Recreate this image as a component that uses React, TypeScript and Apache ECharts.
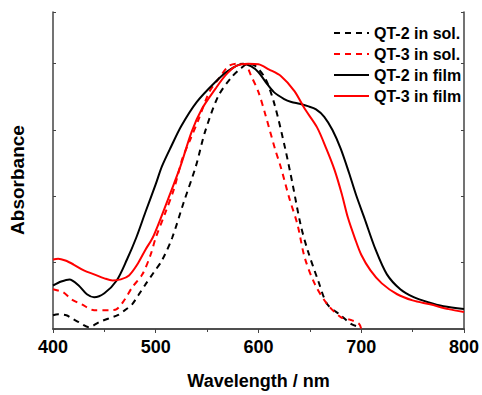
import React, { useEffect, useRef } from "react";
import * as echarts from "echarts";

const seriesNames = ["QT-2 in sol.", "QT-3 in sol.", "QT-2 in film", "QT-3 in film"];
const xTicks = [400, 500, 600, 700, 800];

const qt2Sol: [number, number][] = [
  [400, 0.052], [405, 0.056], [413, 0.052], [418, 0.041], [425, 0.026], [435, 0.007],
  [445, 0.026], [455, 0.041], [463, 0.052], [470, 0.071], [477, 0.093], [483, 0.127],
  [490, 0.168], [498, 0.213], [506, 0.258], [516, 0.344], [527, 0.475], [539, 0.613],
  [548, 0.744], [561, 0.879], [574, 0.95], [583, 0.983], [590, 1.0], [597, 0.991],
  [607, 0.942], [616, 0.841], [626, 0.68], [633, 0.55], [641, 0.393], [648, 0.295],
  [658, 0.183], [667, 0.093], [680, 0.052], [690, 0.019], [699, 0.007],
];

const qt3Sol: [number, number][] = [
  [400, 0.15], [410, 0.138], [418, 0.112], [428, 0.093], [440, 0.071], [455, 0.071],
  [462, 0.075], [470, 0.112], [477, 0.157], [487, 0.206], [495, 0.28], [500, 0.344],
  [510, 0.445], [518, 0.531], [526, 0.643], [534, 0.718], [542, 0.793], [552, 0.893],
  [561, 0.942], [571, 0.991], [580, 1.0], [587, 0.998], [593, 0.953], [600, 0.893],
  [607, 0.804], [616, 0.68], [622, 0.606], [630, 0.493], [638, 0.393], [645, 0.269],
  [655, 0.168], [667, 0.093], [680, 0.045], [690, 0.034], [698, 0.019], [700, 0.0],
];

const qt2Film: [number, number][] = [
  [400, 0.164], [408, 0.179], [416, 0.187], [425, 0.164], [433, 0.131], [440, 0.12],
  [450, 0.135], [462, 0.183], [472, 0.262], [481, 0.344], [490, 0.441], [500, 0.546],
  [506, 0.613], [515, 0.688], [525, 0.766], [540, 0.856], [558, 0.931], [570, 0.972],
  [585, 1.0], [593, 0.99], [600, 0.968], [607, 0.931], [615, 0.893], [625, 0.867],
  [632, 0.856], [640, 0.849], [648, 0.84], [656, 0.828], [664, 0.8], [672, 0.75],
  [680, 0.68], [688, 0.59], [695, 0.505], [703, 0.419], [714, 0.299], [725, 0.206],
  [738, 0.15], [751, 0.12], [765, 0.101], [780, 0.086], [800, 0.075],
];

const qt3Film: [number, number][] = [
  [400, 0.262], [405, 0.265], [412, 0.258], [420, 0.243], [430, 0.221], [440, 0.206],
  [450, 0.191], [458, 0.183], [466, 0.187], [474, 0.202], [482, 0.243], [490, 0.299],
  [497, 0.344], [505, 0.419], [515, 0.52], [524, 0.613], [535, 0.744], [545, 0.83],
  [558, 0.905], [568, 0.957], [578, 0.991], [590, 1.0], [600, 0.998], [610, 0.979],
  [622, 0.953], [635, 0.897], [645, 0.83], [657, 0.76], [666, 0.68], [674, 0.6],
  [681, 0.51], [687, 0.42], [694, 0.34], [700, 0.28], [709, 0.221], [720, 0.172],
  [735, 0.131], [750, 0.108], [767, 0.093], [785, 0.075], [800, 0.064],
];

const FONT = "'Liberation Sans', Arial, sans-serif";

export default function App() {
  const ref = useRef<HTMLDivElement>(null);
  useEffect(() => {
    document.body.style.margin = "0";
    const chart = echarts.init(ref.current!, null, { renderer: "svg" });
    const axisLine = { show: true, lineStyle: { color: "#444", width: 1.5 } };
    const mk = (name: string, data: [number, number][], color: string, dashed: boolean) => ({
      name,
      type: "line",
      data,
      showSymbol: false,
      symbol: "none",
      smooth: 0.3,
      lineStyle: { color, width: 2, type: dashed ? [6, 5] : "solid" },
      itemStyle: { color },
    });
    chart.setOption({
      animation: false,
      backgroundColor: "#fff",
      grid: { left: 53, top: 12, right: 14.5, bottom: 63 },
      legend: {
        orient: "vertical",
        left: 328,
        top: 20,
        itemWidth: 35,
        itemHeight: 14,
        itemGap: 5,
        data: seriesNames,
        itemStyle: { opacity: 0 },
        textStyle: { fontFamily: FONT, fontWeight: "bold", fontSize: 16, color: "#000" },
      },
      graphic: [
        {
          type: "text",
          x: 17,
          y: 180,
          rotation: Math.PI / 2,
          style: {
            text: "Absorbance",
            fontFamily: FONT,
            fontWeight: "bold",
            fontSize: 19,
            fill: "#000",
            textAlign: "center",
            textVerticalAlign: "middle",
          },
        },
      ],
      xAxis: [
        {
          type: "value",
          min: xTicks[0],
          max: xTicks[xTicks.length - 1],
          interval: 100,
          name: "Wavelength / nm",
          nameLocation: "middle",
          nameGap: 43,
          nameTextStyle: { fontFamily: FONT, fontWeight: "bold", fontSize: 18, color: "#000" },
          axisLine,
          axisTick: { show: true, inside: false, length: 4, lineStyle: { color: "#444" } },
          minorTick: { show: true, splitNumber: 2, length: 3, lineStyle: { color: "#444" } },
          axisLabel: { fontFamily: FONT, fontWeight: "bold", fontSize: 18, color: "#000", margin: 9 },
          splitLine: { show: false },
        },
        {
          type: "value",
          position: "top",
          min: 400,
          max: 800,
          interval: 100,
          axisLine,
          axisTick: { show: true, inside: true, length: 3, lineStyle: { color: "#444" } },
          minorTick: { show: true, splitNumber: 2, length: 2, lineStyle: { color: "#444" } },
          axisLabel: { show: false },
          splitLine: { show: false },
        },
      ],
      yAxis: [
        {
          type: "value",
          min: 0,
          max: 1.195,
          interval: 0.25,
          axisLine,
          axisTick: { show: true, inside: true, length: 3, lineStyle: { color: "#444" } },
          axisLabel: { show: false },
          splitLine: { show: false },
        },
        {
          type: "value",
          position: "right",
          min: 0,
          max: 1.195,
          interval: 0.25,
          axisLine,
          axisTick: { show: true, inside: true, length: 3, lineStyle: { color: "#444" } },
          axisLabel: { show: false },
          splitLine: { show: false },
        },
      ],
      series: [
        mk(seriesNames[0], qt2Sol, "#000", true),
        mk(seriesNames[1], qt3Sol, "#ff0000", true),
        mk(seriesNames[2], qt2Film, "#000", false),
        mk(seriesNames[3], qt3Film, "#ff0000", false),
      ],
    });
    return () => chart.dispose();
  }, []);
  return <div ref={ref} style={{ position: "fixed", left: 0, top: 0, width: 482, height: 395 }} />;
}
